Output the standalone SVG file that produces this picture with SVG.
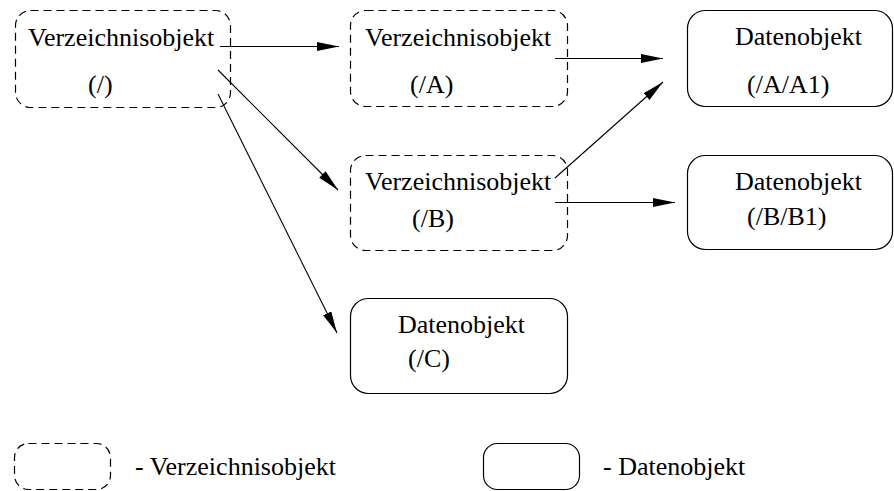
<svg xmlns="http://www.w3.org/2000/svg" width="894" height="491" viewBox="0 0 894 491">
<style>
.dir{fill:none;stroke:#000;stroke-width:1.2;stroke-dasharray:8 5}
.dat{fill:none;stroke:#000;stroke-width:1.2}
text{font-family:"Liberation Serif","Times New Roman",serif;font-size:26px;fill:#000}
.c{stroke:#000;stroke-width:1.1;fill:none;marker-end:url(#ah)}
</style>
<defs>
<marker id="ah" markerUnits="userSpaceOnUse" markerWidth="24" markerHeight="12" refX="22" refY="4.5" orient="auto">
<path d="M0,0 L22,4.5 L0,9 Z" fill="#000"/>
</marker>
</defs>
<g id="root">
<rect class="dir" x="15.5" y="10.5" width="215" height="97" rx="15"/>
<text x="28" y="46">Verzeichnisobjekt</text>
<text x="88" y="93">(/)</text>
</g>
<g id="dirA">
<rect class="dir" x="350.5" y="10.5" width="217" height="96" rx="15"/>
<text x="365" y="46">Verzeichnisobjekt</text>
<text x="410" y="93">(/A)</text>
</g>
<g id="dirB">
<rect class="dir" x="350.5" y="155.5" width="217" height="95" rx="15"/>
<text x="365" y="190">Verzeichnisobjekt</text>
<text x="412" y="227">(/B)</text>
</g>
<g id="datA1">
<rect class="dat" x="687.5" y="10.5" width="205" height="96" rx="18"/>
<text x="735" y="45">Datenobjekt</text>
<text x="747" y="93">(/A/A1)</text>
</g>
<g id="datB1">
<rect class="dat" x="687.5" y="155.5" width="205" height="94" rx="18"/>
<text x="735" y="190">Datenobjekt</text>
<text x="747" y="225">(/B/B1)</text>
</g>
<g id="datC">
<rect class="dat" x="350.5" y="298.5" width="217" height="95" rx="18"/>
<text x="398" y="333">Datenobjekt</text>
<text x="408" y="367">(/C)</text>
</g>
<g id="legend">
<rect class="dir" x="14.5" y="443.5" width="96" height="46" rx="14"/>
<text x="135" y="475">- Verzeichnisobjekt</text>
<rect class="dat" x="483.5" y="443.5" width="96" height="46" rx="14"/>
<text x="603" y="475">- Datenobjekt</text>
</g>
<g id="connectors">
<line class="c" x1="220" y1="46.5" x2="339" y2="46.5"/>
<line class="c" x1="218" y1="70" x2="338" y2="190"/>
<line class="c" x1="218" y1="94" x2="337" y2="333"/>
<line class="c" x1="555" y1="58.5" x2="663" y2="58.5"/>
<line class="c" x1="555" y1="178" x2="663" y2="82"/>
<line class="c" x1="555" y1="202.5" x2="675" y2="202.5"/>
</g>
</svg>
